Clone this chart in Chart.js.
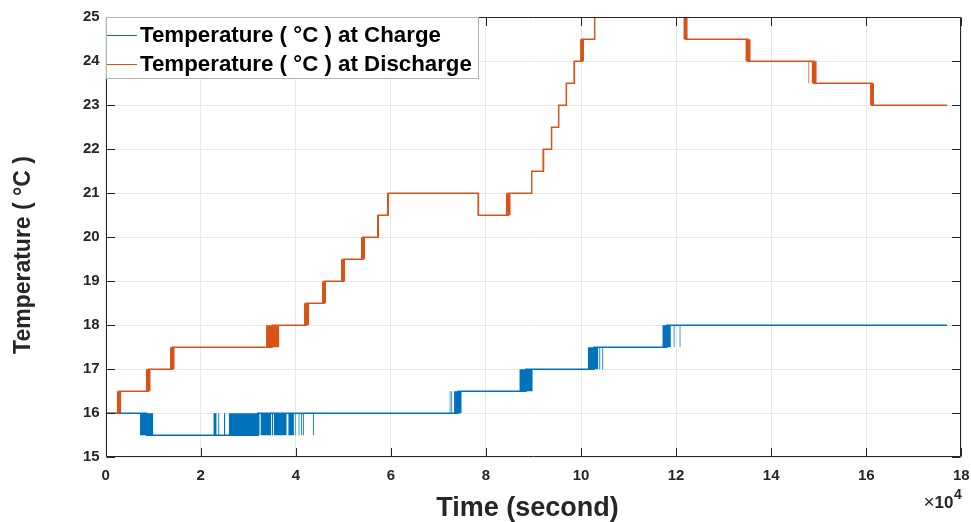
<!DOCTYPE html>
<html><head><meta charset="utf-8">
<script src="https://cdn.jsdelivr.net/npm/chart.js@4.4.0/dist/chart.umd.min.js"></script>
<style>html,body{margin:0;padding:0;background:#fff;} #wrap{width:971px;height:522px;position:relative;}</style>
</head><body><div id="wrap"><canvas id="c" width="971" height="522"></canvas></div>
<script>
// ---- data (time in units of 10^4 s, temperature in °C) ----
const seriesLabels = ['Temperature ( °C ) at Charge', 'Temperature ( °C ) at Discharge'];
const seriesColors = ['#0072BD', '#D95319'];
const xTitle = 'Time (second)';
const yTitle = 'Temperature ( °C )';
const xTickValues = [0, 2, 4, 6, 8, 10, 12, 14, 16, 18];
const yTickValues = [15, 16, 17, 18, 19, 20, 21, 22, 23, 24, 25];

// step levels (value holds from this time until the next)
const chargeTime = [0, 0.86, 3.2, 7.41, 8.84, 10.27, 11.8, 17.7];
const chargeTemp = [16, 15.5, 16, 16.5, 17, 17.5, 18, 18];
const dischargeTime = [0, 0.28, 0.9, 1.4, 3.5, 4.22, 4.6, 5.0, 5.41, 5.73, 5.94, 7.84, 8.47, 8.963, 9.21, 9.38, 9.53, 9.69, 9.86, 10.02, 10.288, 12.2, 13.51, 14.9, 16.12, 17.7];
const dischargeTemp = [16, 16.5, 17, 17.5, 18, 18.5, 19, 19.5, 20, 20.5, 21, 20.5, 21, 21.5, 22, 22.5, 23, 23.5, 24, 24.5, 25, 24.5, 24, 23.5, 23, 23];

// sensor flicker between two adjacent levels: [start, end, low, high]
const chargeFlicker = [
  [0.722, 1.001, 15.5, 16], [2.264, 2.335, 15.5, 16], [2.366, 2.392, 15.5, 16], [2.489, 2.517, 15.5, 16],
  [2.588, 3.240, 15.5, 16], [3.256, 3.485, 15.5, 16], [3.498, 3.520, 15.5, 16], [3.535, 3.808, 15.5, 16],
  [3.840, 3.960, 15.5, 16], [3.975, 3.998, 15.5, 16], [4.055, 4.080, 15.5, 16], [4.105, 4.128, 15.5, 16],
  [4.145, 4.170, 15.5, 16], [4.356, 4.380, 15.5, 16],
  [7.232, 7.256, 16, 16.5], [7.268, 7.292, 16, 16.5], [7.328, 7.490, 16, 16.5],
  [8.702, 8.984, 16.5, 17],
  [10.141, 10.365, 17, 17.5], [10.382, 10.408, 17, 17.5], [10.444, 10.468, 17, 17.5],
  [11.710, 11.890, 17.5, 18], [11.945, 11.970, 17.5, 18], [12.070, 12.095, 17.5, 18]
];
const dischargeFlicker = [
  [0.231, 0.328, 16, 16.5], [0.842, 0.947, 16.5, 17], [1.353, 1.452, 17, 17.5], [3.373, 3.653, 17.5, 18],
  [4.172, 4.277, 18, 18.5], [4.551, 4.635, 18.5, 19], [4.950, 5.035, 19, 19.5], [5.371, 5.455, 19.5, 20],
  [5.708, 5.750, 20, 20.5], [5.918, 5.960, 20.5, 21], [7.820, 7.860, 20.5, 21], [8.416, 8.521, 20.5, 21],
  [9.186, 9.228, 21.5, 22], [9.369, 9.396, 22, 22.5], [9.516, 9.543, 22.5, 23], [9.678, 9.712, 23, 23.5],
  [9.838, 9.874, 23.5, 24], [9.979, 10.063, 24, 24.5], [12.152, 12.245, 24.5, 25], [13.457, 13.570, 24, 24.5],
  [14.780, 14.805, 23.5, 24], [14.850, 14.959, 23.5, 24], [16.080, 16.165, 23, 23.5]
];

// ---- build datasets ----
const FONT = 'Liberation Sans, Arial, Helvetica, sans-serif';
const INK = '#262626';
function pts(ts, vs) { return ts.map((t, i) => ({ x: t, y: vs[i] })); }
function flickerSets(list, color, order) {
  return list.map(b => ({
    label: '', isFlicker: true,
    data: [{ x: b[0], y: b[3] }, { x: b[1], y: b[3] }],
    borderWidth: 0, borderColor: 'rgba(0,0,0,0)', backgroundColor: color,
    fill: { value: b[2] }, pointRadius: 0, order: order
  }));
}
const datasets = [
  { label: seriesLabels[1], isMain: true, data: pts(dischargeTime, dischargeTemp), borderColor: seriesColors[1], backgroundColor: seriesColors[1],
    borderWidth: 1.4, stepped: 'before', pointRadius: 0, fill: false, order: 0 },
  ...flickerSets(dischargeFlicker, seriesColors[1], 1),
  { label: seriesLabels[0], isMain: true, data: pts(chargeTime, chargeTemp), borderColor: seriesColors[0], backgroundColor: seriesColors[0],
    borderWidth: 1.4, stepped: 'before', pointRadius: 0, fill: false, order: 2 },
  ...flickerSets(chargeFlicker, seriesColors[0], 3)
];

const L = 105.7, R = 961.3, T = 17.3, B = 457.3;

const framePlugin = {
  id: 'frame',
  afterDatasetsDraw(chart) {
    const { ctx, chartArea: a, scales } = chart;
    ctx.save();
    ctx.strokeStyle = INK; ctx.lineWidth = 1;
    const l = Math.round(a.left) + 0.5, r = Math.round(a.right) - 0.5, t = Math.round(a.top) + 0.5, b = Math.round(a.bottom) - 0.5;
    ctx.beginPath();
    ctx.rect(l, t, r - l, b - t);
    const tl = 8.5;
    xTickValues.forEach(v => {
      const x = Math.round(scales.x.getPixelForValue(v)) + 0.5;
      ctx.moveTo(x, b); ctx.lineTo(x, b - tl);
      ctx.moveTo(x, t); ctx.lineTo(x, t + tl);
    });
    yTickValues.forEach(v => {
      const y = Math.round(scales.y.getPixelForValue(v)) + 0.5;
      ctx.moveTo(l, y); ctx.lineTo(l + tl, y);
      ctx.moveTo(r, y); ctx.lineTo(r - tl, y);
    });
    ctx.stroke();
    ctx.restore();
  },
  afterDraw(chart) {
    const { ctx, chartArea: a } = chart;
    ctx.save();
    ctx.fillStyle = INK;
    // x axis title
    ctx.font = 'bold 27px ' + FONT;
    ctx.textAlign = 'center'; ctx.textBaseline = 'middle';
    ctx.fillText(xTitle, 527.5, 509);
    // y axis title
    ctx.font = 'bold 23px ' + FONT;
    ctx.translate(24, 255); ctx.rotate(-Math.PI / 2);
    ctx.fillText(yTitle, 0, 0);
    ctx.setTransform(1, 0, 0, 1, 0, 0);
    // exponent label
    ctx.textBaseline = 'alphabetic'; ctx.textAlign = 'left';
    ctx.font = 'bold 14px ' + FONT;
    const w4 = ctx.measureText('4').width;
    ctx.font = 'bold 17px ' + FONT;
    const w10 = ctx.measureText('10').width;
    ctx.font = '19px ' + FONT;
    const wx = ctx.measureText('×').width;
    let x0 = a.right - w4 - w10 - wx;
    ctx.fillText('×', x0, 508);
    ctx.font = 'bold 17px ' + FONT; ctx.fillText('10', x0 + wx, 508);
    ctx.font = 'bold 14px ' + FONT; ctx.fillText('4', x0 + wx + w10 + 0.5, 499);
    // legend box
    const mains = chart.data.datasets.filter(d => d.isMain);
    const order = [seriesLabels[0], seriesLabels[1]].map(lb => mains.find(d => d.label === lb));
    const bx = Math.round(a.left) + 0.5, by = Math.round(a.top) + 0.5, bw = 372, bh = 61;
    ctx.fillStyle = '#ffffff'; ctx.fillRect(bx, by, bw, bh);
    ctx.strokeStyle = '#b4b4b4'; ctx.lineWidth = 1; ctx.strokeRect(bx, by, bw, bh);
    ctx.font = 'bold 22.3px ' + FONT; ctx.textBaseline = 'middle';
    order.forEach((d, i) => {
      const cy = 34.5 + i * 29.2;
      ctx.strokeStyle = d.borderColor; ctx.lineWidth = 1;
      ctx.beginPath(); ctx.moveTo(107, Math.round(cy) + 0.5); ctx.lineTo(137, Math.round(cy) + 0.5); ctx.stroke();
      ctx.fillStyle = '#000000';
      ctx.fillText(d.label, 140, cy + 1);
    });
    ctx.restore();
  }
};

new Chart(document.getElementById('c'), {
  type: 'line',
  data: { datasets },
  options: {
    responsive: false, animation: false, devicePixelRatio: 1,
    layout: { padding: { left: 0, right: 971 - R, top: T, bottom: 0 } },
    plugins: { legend: { display: false }, tooltip: { enabled: false } },
    scales: {
      x: {
        type: 'linear', min: 0, max: 18,
        afterBuildTicks: s => { s.ticks = xTickValues.map(v => ({ value: v })); },
        afterFit: s => { s.height = 522 - B; s.paddingLeft = 0; s.paddingRight = 0; },
        ticks: { color: INK, font: { family: FONT, size: 15, weight: 'bold' }, padding: 10, maxRotation: 0 },
        grid: { color: '#e8e8e8', lineWidth: 1, drawTicks: false },
        border: { display: false },
        title: { display: false }
      },
      y: {
        type: 'linear', min: 15, max: 25,
        afterBuildTicks: s => { s.ticks = yTickValues.map(v => ({ value: v })); },
        afterFit: s => { s.width = L; s.paddingTop = 0; s.paddingBottom = 0; },
        ticks: { color: INK, font: { family: FONT, size: 15, weight: 'bold' }, padding: 6 },
        grid: { color: '#e8e8e8', lineWidth: 1, drawTicks: false },
        border: { display: false },
        title: { display: false }
      }
    }
  },
  plugins: [framePlugin]
});
</script></body></html>
